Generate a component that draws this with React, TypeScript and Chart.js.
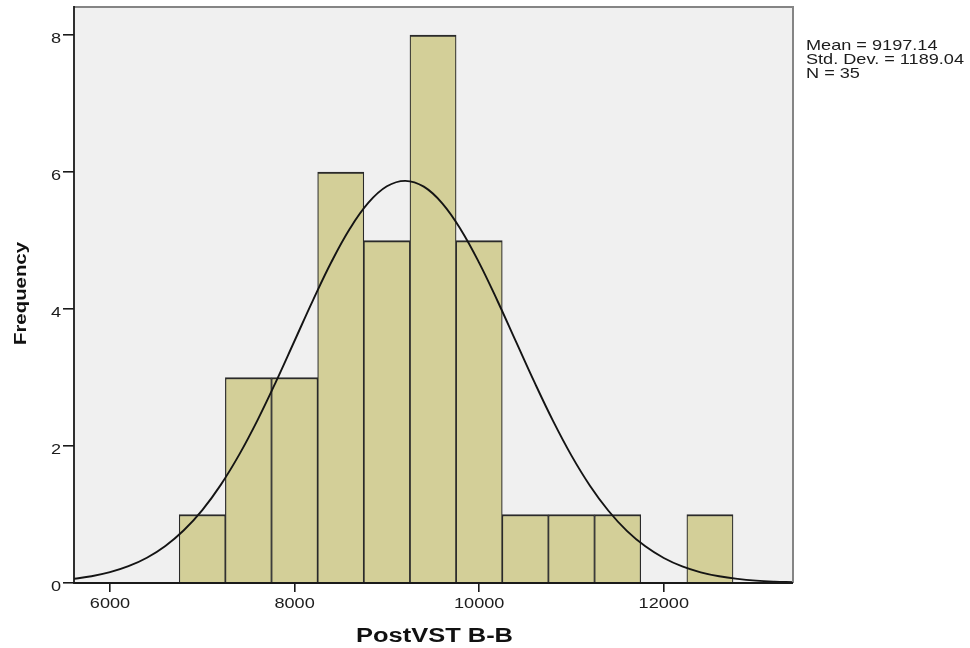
import React, { useEffect, useRef } from "react";
import { Chart, registerables } from "chart.js";

Chart.register(...registerables);

// ---- data ----
const binCenters = [7000, 7500, 8000, 8500, 9000, 9500, 10000, 10500, 11000, 11500, 12000, 12500];
const binCounts = [1, 3, 3, 6, 5, 8, 5, 1, 1, 1, 0, 1];

const curveX = [
  5600, 5800, 6000, 6200, 6400, 6600, 6800, 7000, 7200, 7400, 7600, 7800, 8000, 8200, 8400, 8600,
  8800, 9000, 9200, 9400, 9600, 9800, 10000, 10200, 10400, 10600, 10800, 11000, 11200, 11400,
  11600, 11800, 12000, 12200, 12400, 12600, 12800, 13000, 13200, 13400,
];
const curveY = [
  0.061, 0.099, 0.158, 0.245, 0.369, 0.541, 0.770, 1.065, 1.433, 1.874, 2.382, 2.944, 3.537, 4.131,
  4.690, 5.176, 5.553, 5.792, 5.872, 5.787, 5.544, 5.163, 4.675, 4.114, 3.520, 2.928, 2.367, 1.860,
  1.421, 1.055, 0.762, 0.535, 0.365, 0.242, 0.156, 0.098, 0.060, 0.035, 0.020, 0.011,
];

const xTickValues = [6000, 8000, 10000, 12000];
const yTickValues = [0, 2, 4, 6, 8];
const xRange = [5610, 13400];
const yRange = [0, 8.41];

const xTitle = "PostVST B-B";
const yTitle = "Frequency";
const statsLines = ["Mean = 9197.14", "Std. Dev. = 1189.04", "N = 35"];

const FONT = '"Liberation Sans", Arial, sans-serif';

function drawStretched(
  ctx: CanvasRenderingContext2D,
  text: string,
  x: number,
  y: number,
  sx: number,
  align: CanvasTextAlign
) {
  ctx.save();
  ctx.translate(x, y);
  ctx.scale(sx, 1);
  ctx.textAlign = align;
  ctx.textBaseline = "alphabetic";
  ctx.fillText(text, 0, 0);
  ctx.restore();
}

const spssPlugin = {
  id: "spssDecor",
  beforeDraw(chart: any) {
    const { ctx, chartArea } = chart;
    ctx.save();
    ctx.fillStyle = "#ffffff";
    ctx.fillRect(0, 0, chart.width, chart.height);
    ctx.fillStyle = "#f0f0f0";
    ctx.fillRect(chartArea.left, chartArea.top, chartArea.right - chartArea.left, chartArea.bottom - chartArea.top);
    ctx.restore();
  },
  afterDraw(chart: any) {
    const { ctx, chartArea, scales } = chart;
    const { left, right, top, bottom } = chartArea;
    ctx.save();
    // frame: top & right gray
    ctx.strokeStyle = "#858585";
    ctx.lineWidth = 2;
    ctx.beginPath();
    ctx.moveTo(left, top);
    ctx.lineTo(right, top);
    ctx.lineTo(right, bottom);
    ctx.stroke();
    // axes: left & bottom dark
    ctx.strokeStyle = "#1a1a1a";
    ctx.lineWidth = 1.8;
    ctx.beginPath();
    ctx.moveTo(left, top - 1);
    ctx.lineTo(left, bottom);
    ctx.lineTo(right, bottom);
    ctx.stroke();

    // tick labels
    ctx.fillStyle = "#1c1c1c";
    ctx.font = `14.5px ${FONT}`;
    const sx = 1.25;
    for (const v of yTickValues) {
      const y = scales.y.getPixelForValue(v);
      drawStretched(ctx, String(v), left - 13, y + 8.2, sx, "right");
    }
    for (const v of xTickValues) {
      const x = scales.x.getPixelForValue(v);
      drawStretched(ctx, String(v), x, bottom + 24.5, sx, "center");
    }

    // stats text
    statsLines.forEach((line, i) => {
      drawStretched(ctx, line, right + 13, 49.5 + i * 14.3, sx, "left");
    });

    // x title
    ctx.fillStyle = "#111111";
    ctx.font = `bold 19.5px ${FONT}`;
    const wX = ctx.measureText(xTitle).width;
    drawStretched(ctx, xTitle, (left + right) / 2 + 1, 642.3, 157 / wX, "center");

    // y title (rotated)
    ctx.font = `bold 17px ${FONT}`;
    const wY = ctx.measureText(yTitle).width;
    ctx.save();
    ctx.translate(25.8, 293.5);
    ctx.rotate(-Math.PI / 2);
    ctx.scale(103 / wY, 1);
    ctx.textAlign = "center";
    ctx.textBaseline = "alphabetic";
    ctx.fillText(yTitle, 0, 0);
    ctx.restore();

    ctx.restore();
  },
};

export default function App() {
  const canvasRef = useRef<HTMLCanvasElement | null>(null);

  useEffect(() => {
    document.body.style.margin = "0";
    const canvas = canvasRef.current;
    if (!canvas) return;

    const barData = binCenters
      .map((c, i) => ({ x: c, y: binCounts[i] }))
      .filter((d) => d.y > 0);
    const lineData = curveX.map((x, i) => ({ x, y: curveY[i] }));

    const chart = new Chart(canvas, {
      type: "bar",
      data: {
        datasets: [
          {
            type: "line",
            data: lineData,
            borderColor: "#141414",
            borderWidth: 1.9,
            pointRadius: 0,
            tension: 0.4,
            fill: false,
            order: 0,
          } as any,
          {
            type: "bar",
            data: barData,
            backgroundColor: "#d3cf98",
            borderColor: "#2a2a2a",
            borderWidth: { top: 2, left: 1.2, right: 1.2, bottom: 0 },
            borderSkipped: false,
            barPercentage: 1,
            categoryPercentage: 1,
            grouped: false,
            order: 1,
          } as any,
        ],
      },
      options: {
        animation: false,
        responsive: true,
        maintainAspectRatio: false,
        layout: { padding: { top: 7, right: 177, left: 0, bottom: 0 } },
        plugins: {
          legend: { display: false },
          tooltip: { enabled: false },
          title: { display: false },
        },
        scales: {
          x: {
            type: "linear",
            min: xRange[0],
            max: xRange[1],
            offset: false,
            grid: {
              offset: false,
              drawOnChartArea: false,
              drawTicks: true,
              tickLength: 9,
              color: "#1a1a1a",
              lineWidth: 1.6,
            },
            border: { display: false },
            ticks: { display: false },
            afterBuildTicks: (s: any) => {
              s.ticks = xTickValues.map((v) => ({ value: v }));
            },
            afterFit: (s: any) => {
              s.height = 65;
            },
          },
          y: {
            type: "linear",
            min: yRange[0],
            max: yRange[1],
            grid: {
              drawOnChartArea: false,
              drawTicks: true,
              tickLength: 11,
              color: "#1a1a1a",
              lineWidth: 1.6,
            },
            border: { display: false },
            ticks: { display: false },
            afterBuildTicks: (s: any) => {
              s.ticks = yTickValues.map((v) => ({ value: v }));
            },
            afterFit: (s: any) => {
              s.width = 74;
            },
          },
        },
      } as any,
      plugins: [spssPlugin],
    });

    return () => {
      chart.destroy();
    };
  }, []);

  return (
    <div style={{ width: 970, height: 648, position: "relative" }}>
      <canvas ref={canvasRef} />
    </div>
  );
}
